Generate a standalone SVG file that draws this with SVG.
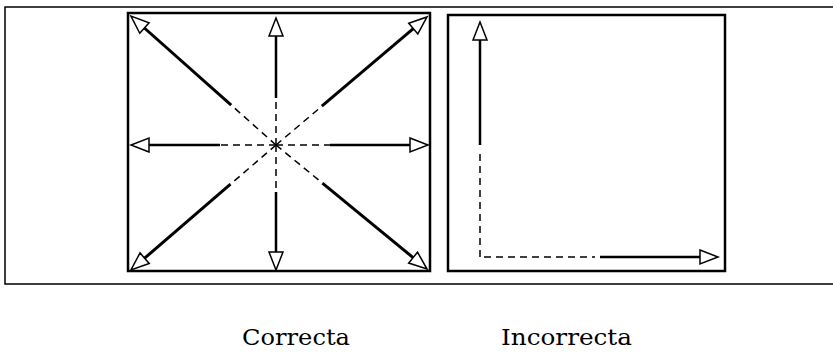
<svg xmlns="http://www.w3.org/2000/svg" width="833" height="353" viewBox="0 0 833 353">
<style>
.frame{fill:none;stroke:#000;stroke-width:1.5}
.box{fill:none;stroke:#000;stroke-width:2.5}
.solid{fill:none;stroke:#000;stroke-width:2.5}
.diag{fill:none;stroke:#000;stroke-width:3}
.dash{fill:none;stroke:#000;stroke-width:1.5;stroke-dasharray:7 5}
.lbl{font-family:"DejaVu Serif","Liberation Serif",serif;font-size:23px;fill:#000}
</style>
<defs>
<marker id="head" markerUnits="userSpaceOnUse" markerWidth="22" markerHeight="18" refX="0" refY="0" viewBox="-1 -9 22 18" orient="auto" overflow="visible">
<path d="M0,-7 L18,0 L0,7 Z" fill="#fff" stroke="#000" stroke-width="1.5" stroke-linejoin="miter"/>
</marker>
</defs>
<path class="frame" d="M833,7 H5 V284 H833"/>
<g id="correcta">
<rect class="box" x="128" y="13" width="302" height="258"/>
</g>
<g id="incorrecta">
<rect class="box" x="448" y="15" width="277" height="256"/>
</g>
<g id="connectors">
<line class="dash" x1="276" y1="145" x2="276" y2="98"/>
<line class="solid" x1="276" y1="98" x2="276" y2="36" marker-end="url(#head)"/>
<line class="dash" x1="276" y1="145" x2="276" y2="192"/>
<line class="solid" x1="276" y1="192" x2="276" y2="252" marker-end="url(#head)"/>
<line class="dash" x1="276" y1="145" x2="220" y2="145"/>
<line class="solid" x1="220" y1="145" x2="149" y2="145" marker-end="url(#head)"/>
<line class="dash" x1="276" y1="145" x2="330" y2="145"/>
<line class="solid" x1="330" y1="145" x2="410" y2="145" marker-end="url(#head)"/>
<line class="dash" x1="276" y1="145" x2="231.2" y2="105.1"/>
<line class="diag" x1="231.2" y1="105.1" x2="144.4" y2="28" marker-end="url(#head)"/>
<line class="dash" x1="276" y1="145" x2="321.8" y2="106.2"/>
<line class="diag" x1="321.8" y1="106.2" x2="413.3" y2="28.6" marker-end="url(#head)"/>
<line class="dash" x1="276" y1="145" x2="230.5" y2="184.2"/>
<line class="diag" x1="230.5" y1="184.2" x2="144.6" y2="258.2" marker-end="url(#head)"/>
<line class="dash" x1="276" y1="145" x2="322.4" y2="183.1"/>
<line class="diag" x1="322.4" y1="183.1" x2="413.1" y2="257.6" marker-end="url(#head)"/>
<line class="dash" x1="480" y1="257" x2="480" y2="150"/>
<line class="solid" x1="480" y1="145" x2="480" y2="40" marker-end="url(#head)"/>
<line class="dash" x1="484" y1="257" x2="595" y2="257"/>
<line class="solid" x1="600" y1="257" x2="700" y2="257" marker-end="url(#head)"/>
</g>
<text class="lbl" x="242" y="345" textLength="108" lengthAdjust="spacingAndGlyphs">Correcta</text>
<text class="lbl" x="501" y="345" textLength="131" lengthAdjust="spacingAndGlyphs">Incorrecta</text>
</svg>
